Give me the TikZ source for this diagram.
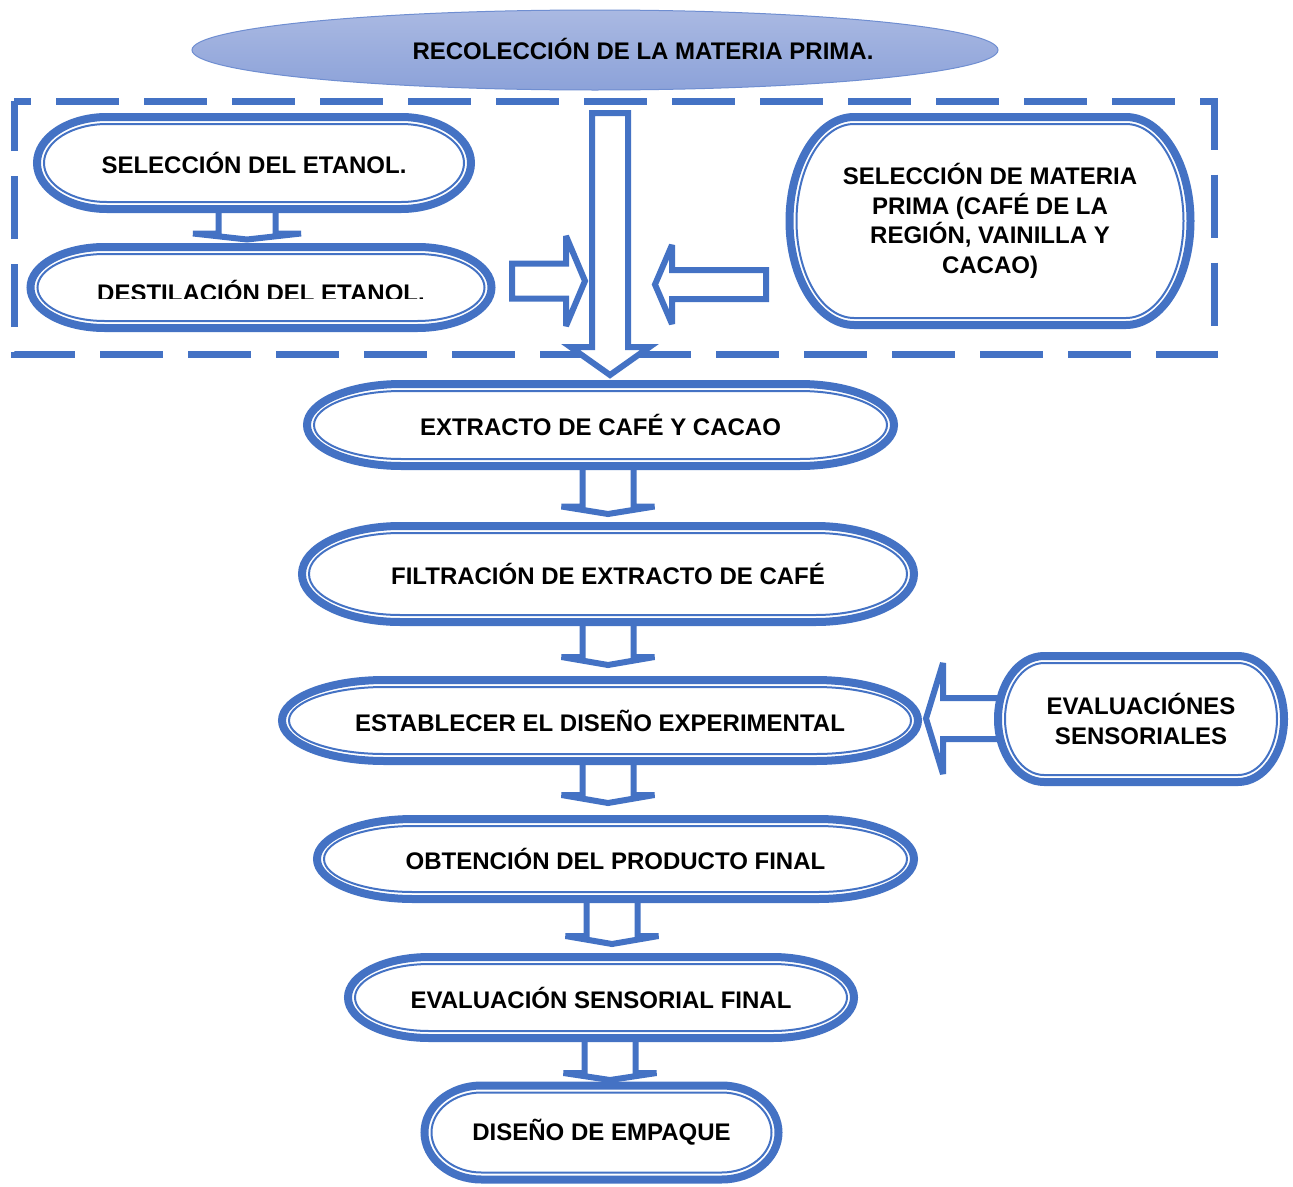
\documentclass[tikz,border=0pt]{standalone}
\usepackage{fontspec}
\setmainfont{Liberation Sans}
\usetikzlibrary{shapes.geometric}
\definecolor{bl}{HTML}{4472C4}
\definecolor{elTop}{HTML}{AAB9E2}
\definecolor{elBot}{HTML}{8CA2D9}
\definecolor{elLine}{HTML}{6F8ED1}
\tikzset{
  outerline/.style={draw=bl, line width=8, fill=white},
  innerline/.style={draw=bl, line width=2},
  boxtext/.style={inner sep=0, align=center, font=\bfseries\fontsize{24}{29.5}\selectfont},
  blk/.style={draw=bl, fill=white, line width=6, line join=miter, miter limit=4},
  dashframe/.style={draw=bl, line width=7, dash pattern=on 63 off 25, dash phase=46},
}
% name, cx, cy, width, height, text
\newcommand\stad[6]{%
  \pgfmathsetmacro\stA{#4/2-4}%
  \pgfmathsetmacro\stB{#5/2-4}%
  \pgfmathsetmacro\stR{0.161*(#4-8)}%
  \pgfmathsetmacro\stAi{\stA-7}%
  \pgfmathsetmacro\stBi{\stB-7}%
  \pgfmathsetmacro\stRi{\stR-7}%
  \draw[outerline] (#2-\stA+\stR,#3-\stB) -- (#2+\stA-\stR,#3-\stB)
    arc[start angle=-90,end angle=90,x radius=\stR,y radius=\stB]
    -- (#2-\stA+\stR,#3+\stB)
    arc[start angle=90,end angle=270,x radius=\stR,y radius=\stB] -- cycle;
  \draw[innerline] (#2-\stAi+\stRi,#3-\stBi) -- (#2+\stAi-\stRi,#3-\stBi)
    arc[start angle=-90,end angle=90,x radius=\stRi,y radius=\stBi]
    -- (#2-\stAi+\stRi,#3+\stBi)
    arc[start angle=90,end angle=270,x radius=\stRi,y radius=\stBi] -- cycle;
  \node[boxtext, minimum width=#4, minimum height=#5] (#1) at (#2,#3) {#6};
}
% cx, top, wing y, tip y, half shaft, half head
\newcommand\dnarrow[6]{%
  \draw[blk] (#1-#5,#2) -- (#1+#5,#2) -- (#1+#5,#3) -- (#1+#6,#3) -- (#1,#4)
    -- (#1-#6,#3) -- (#1-#5,#3) -- cycle;}
% cy, tail x, head base x, tip x, half shaft, half head
\newcommand\harrow[6]{%
  \draw[blk] (#2,#1-#5) -- (#3,#1-#5) -- (#3,#1-#6) -- (#4,#1) -- (#3,#1+#6)
    -- (#3,#1+#5) -- (#2,#1+#5) -- cycle;}
\begin{document}
\begin{tikzpicture}[x=1pt,y=-1pt]
\fill[white] (0,0) rectangle (1293,1186);
\useasboundingbox (0,0) rectangle (1293,1186);

% dashed frame
\draw[dashframe] (14,101) -- (1214.5,101) -- (1214.5,354.5) -- (14,354.5) -- cycle;

% top ellipse
\node[ellipse, minimum width=806, minimum height=80, inner sep=0, draw=elLine,
      line width=1, top color=elTop, bottom color=elBot] (rec) at (595,50) {};
\node[boxtext] (rect) at (643,49) {RECOLECCIÓN DE LA MATERIA PRIMA.};

% block arrows (behind boxes)
\dnarrow{247}{205}{233.5}{239.5}{28.5}{54}
\draw[blk] (592,113) -- (628,113) -- (628,347) -- (649.5,347) -- (610,375)
  -- (570.5,347) -- (592,347) -- cycle;
\harrow{281}{512}{566}{585}{17.5}{45}
\harrow{284.5}{766}{672}{655}{14.5}{39.5}
\dnarrow{608}{465}{506.5}{514}{25.5}{46.5}
\dnarrow{608}{615}{657}{665}{25.5}{46.5}
\dnarrow{608}{755}{795}{803}{25.5}{46.5}
\dnarrow{612}{893}{936}{944}{25.5}{46.5}
\dnarrow{610}{1035}{1073}{1080}{25.5}{46.5}
\harrow{718.5}{1000}{943}{926}{20.5}{55.5}

% boxes
\stad{sel}{254}{163}{442}{100}{SELECCIÓN DEL ETANOL.}
\stad{dest}{261}{287.5}{469}{89}{}
\begin{scope}
  \clip (0,0) rectangle (1293,298);
  \node[boxtext, anchor=base] (destt) at (261,301.5) {DESTILACIÓN DEL ETANOL.};
\end{scope}
\stad{mat}{990}{221}{409}{216}{SELECCIÓN DE MATERIA\\PRIMA (CAFÉ DE LA\\REGIÓN, VAINILLA Y\\CACAO)}
\stad{ext}{600.5}{425}{595}{90}{EXTRACTO DE CAFÉ Y CACAO}
\stad{fil}{608}{574}{620}{104}{FILTRACIÓN DE EXTRACTO DE CAFÉ}
\stad{est}{600}{720.5}{644}{89}{ESTABLECER EL DISEÑO EXPERIMENTAL}
\stad{eva}{1141}{719}{294}{134}{EVALUACIÓNES\\SENSORIALES}
\stad{obt}{615.5}{859}{605}{88}{OBTENCIÓN DEL PRODUCTO FINAL}
\stad{fin}{601}{997.5}{514}{89}{EVALUACIÓN SENSORIAL FINAL}
\stad{emp}{601.5}{1132.5}{362}{102}{DISEÑO DE EMPAQUE}
\end{tikzpicture}
\end{document}
